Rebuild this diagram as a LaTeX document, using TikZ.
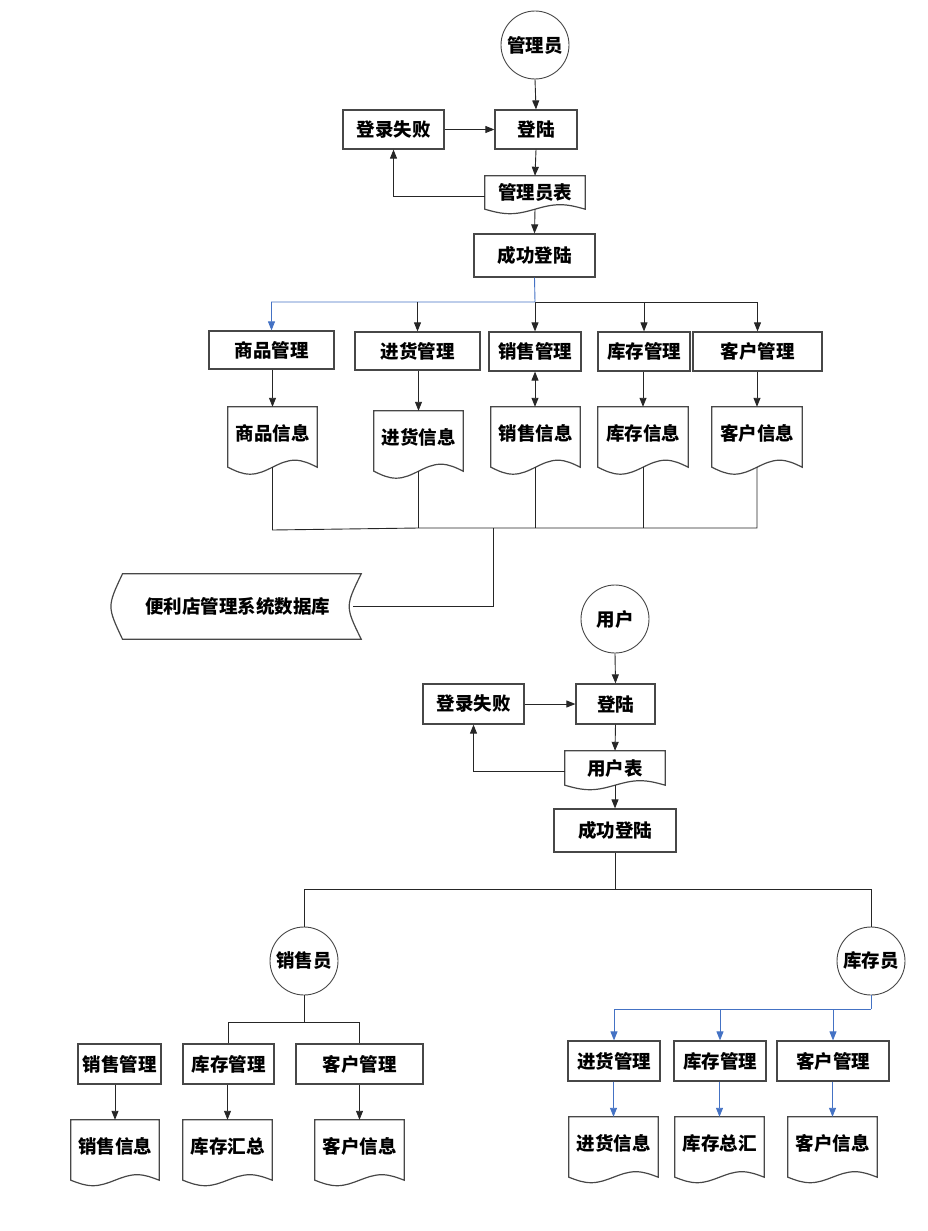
\documentclass[tikz,border=0pt]{standalone}
\usepackage{fontspec}
\setmainfont{Noto Sans CJK SC}
\usetikzlibrary{arrows.meta,calc}
\definecolor{blueln}{RGB}{68,114,196}
\newcommand\lbl{\fontsize{18.5}{21}\selectfont\bfseries}
\newcommand\docshape[2]{%
  \draw[docline] (#2.south west) -- (#2.north west) -- (#2.north east) -- (#2.south east)
    sin ($(#2.south east)!0.25!(#2.south west)+(0,-#1)$)
    cos (#2.south)
    sin ($(#2.south east)!0.75!(#2.south west)+(0,#1)$)
    cos (#2.south west) -- cycle;}
\tikzset{
  box/.style={draw=black!72, line width=1.2pt, rectangle, inner sep=0pt, font=\lbl},
  docnode/.style={rectangle, inner sep=0pt, font=\lbl},
  tdoc/.style={docnode, text height=12pt, text depth=6pt},
  docline/.style={draw=black!72, line width=1.2pt},
  circ/.style={draw=black!72, line width=0.9pt, circle, minimum size=68pt, inner sep=0pt, font=\lbl},
  ln/.style={line width=0.9pt, draw=black!85},
  arr/.style={ln, -{Triangle[length=9pt,width=7pt]}},
  darr/.style={ln, {Triangle[length=9pt,width=7pt]}-{Triangle[length=9pt,width=7pt]}},
  bln/.style={line width=0.9pt, draw=blueln},
  barr/.style={bln, -{Triangle[length=9pt,width=7pt]}},
  dbnode/.style={rectangle, inner sep=0pt, font=\lbl},
}
\begin{document}
\begin{tikzpicture}[x=1pt,y=-1pt]
\useasboundingbox (0,0) rectangle (928,1231);
% ---------- administrator part ----------
\node[circ] (admin) at (535,45) {管理员};
\node[box, minimum width=82pt, minimum height=39pt] (login1) at (536,129.5) {登陆};
\node[box, minimum width=101pt, minimum height=39pt] (fail1) at (393.5,129.5) {登录失败};
\node[docnode, minimum width=100pt, minimum height=33pt] (admintab) at (535,192.5) {管理员表};
\docshape{4.5}{admintab}
\node[box, minimum width=121pt, minimum height=43pt] (success1) at (534.5,255.5) {成功登陆};

\draw[arr] (admin.south) -- (login1.north);
\draw[arr] (fail1.east) -- (login1.west);
\draw[arr] (login1.south) -- (admintab.north);
\draw[arr] ([yshift=-4pt]admintab.west) -| (fail1.south);
\draw[arr] (admintab.south) -- (success1.north);

\node[box, minimum width=125pt, minimum height=38pt] (m1) at (271.5,350) {商品管理};
\node[box, minimum width=125pt, minimum height=38pt] (m2) at (417.5,351) {进货管理};
\node[box, minimum width=92pt, minimum height=39pt] (m3) at (535,351.5) {销售管理};
\node[box, minimum width=92pt, minimum height=39pt] (m4) at (644,351.5) {库存管理};
\node[box, minimum width=129pt, minimum height=39pt] (m5) at (757.5,351.5) {客户管理};

\node[tdoc, minimum width=89pt, minimum height=60pt] (i1) at (272.5,437) {商品信息};
\node[tdoc, minimum width=89pt, minimum height=60pt] (i2) at (418.5,441) {进货信息};
\node[tdoc, minimum width=89pt, minimum height=60pt] (i3) at (535.5,437) {销售信息};
\node[tdoc, minimum width=90pt, minimum height=60pt] (i4) at (643,437) {库存信息};
\node[tdoc, minimum width=90pt, minimum height=60pt] (i5) at (757,437) {客户信息};
\foreach \d in {i1,i2,i3,i4,i5} {\docshape{7}{\d}}

\coordinate (busT) at (535,302);
\draw[ln] (busT) -- (m5.north |- busT);
\draw[barr] (success1.south) -- (busT) -| (m1.north);
\draw[arr] (busT) -- (m3.north);
\draw[arr] (m2.north |- busT) -- (m2.north);
\draw[arr] (m4.north |- busT) -- (m4.north);
\draw[arr] (m5.north |- busT) -- (m5.north);

\draw[arr] (m1.south -| i1.north) -- (i1.north);
\draw[arr] (m2.south -| i2.north) -- (i2.north);
\draw[darr] (m3.south) -- (m3.south |- i3.north);
\draw[arr] (m4.south -| i4.north) -- (i4.north);
\draw[arr] (m5.south -| i5.north) -- (i5.north);

\coordinate (bb1) at (272.5,530);
\coordinate (bb2) at (418.5,528);
\coordinate (bb5) at (757,528);
\coordinate (bbj) at (493,528);
\draw[ln] (i1.south) -- (bb1) -- (bb2) -- (bb5) -- (i5.south);
\draw[ln] (i2.south) -- (bb2);
\draw[ln] (i3.south) -- (i3.south |- bb2);
\draw[ln] (i4.south) -- (i4.south |- bb2);

\node[dbnode, minimum width=230.3pt, minimum height=65pt] (db) at (237.85,606.5) {便利店管理系统数据库};
\draw[docline] (db.north west) -- ([xshift=8pt]db.north east)
  .. controls ([xshift=-8pt]db.east) .. ([xshift=8pt]db.south east)
  -- (db.south west)
  .. controls ([xshift=-15.4pt]db.west) .. (db.north west) -- cycle;
\draw[ln] (bbj) |- (db.east);

% ---------- user part ----------
\node[circ] (user) at (615,619) {用户};
\node[box, minimum width=79pt, minimum height=40pt] (login2) at (615.5,704) {登陆};
\node[box, minimum width=101pt, minimum height=40pt] (fail2) at (473.5,704) {登录失败};
\node[docnode, minimum width=100pt, minimum height=34pt] (usertab) at (615,768) {用户表};
\docshape{4.5}{usertab}
\node[box, minimum width=122pt, minimum height=43pt] (success2) at (615,830.5) {成功登陆};

\draw[arr] (user.south) -- (login2.north);
\draw[arr] (fail2.east) -- (login2.west);
\draw[arr] (login2.south) -- (usertab.north);
\draw[arr] ([yshift=-3pt]usertab.west) -| (fail2.south);
\draw[arr] (usertab.south) -- (success2.north);

\node[circ] (clerk) at (304,961) {销售员};
\node[circ] (stock) at (871,961) {库存员};
\coordinate (bus2) at (615,889);
\draw[ln] (success2.south) -- (bus2);
\draw[ln] (clerk.north) |- (bus2) -| (stock.north);

% sales clerk
\node[box, minimum width=83pt, minimum height=40pt] (s1) at (119.5,1064) {销售管理};
\node[box, minimum width=91pt, minimum height=40pt] (s2) at (228.5,1064) {库存管理};
\node[box, minimum width=127pt, minimum height=40pt] (s3) at (359.5,1064) {客户管理};
\node[tdoc, minimum width=88pt, minimum height=60pt] (sd1) at (115,1150) {销售信息};
\node[tdoc, minimum width=89pt, minimum height=60pt] (sd2) at (227.5,1150) {库存汇总};
\node[tdoc, minimum width=89pt, minimum height=60pt] (sd3) at (359.5,1150) {客户信息};
\foreach \d in {sd1,sd2,sd3} {\docshape{5.5}{\d}}
\coordinate (cj) at (304,1022);
\draw[ln] (clerk.south) -- (cj);
\draw[ln] (s2.north) |- (cj) -| (s3.north);
\draw[arr] (s1.south -| sd1.north) -- (sd1.north);
\draw[arr] (s2.south -| sd2.north) -- (sd2.north);
\draw[arr] (s3.south -| sd3.north) -- (sd3.north);

% stock clerk
\node[box, minimum width=92pt, minimum height=40pt] (k1) at (614,1061) {进货管理};
\node[box, minimum width=92pt, minimum height=40pt] (k2) at (720,1061) {库存管理};
\node[box, minimum width=112pt, minimum height=40pt] (k3) at (833,1061) {客户管理};
\node[tdoc, minimum width=89pt, minimum height=60pt] (kd1) at (613.5,1147) {进货信息};
\node[tdoc, minimum width=89pt, minimum height=60pt] (kd2) at (719.5,1147) {库存总汇};
\node[tdoc, minimum width=89pt, minimum height=60pt] (kd3) at (832.5,1147) {客户信息};
\foreach \d in {kd1,kd2,kd3} {\docshape{5.5}{\d}}
\coordinate (kj) at (871,1009);
\draw[bln] (stock.south) -- (kj);
\draw[barr] (kj) -| (k1.north);
\draw[barr] (k2.north |- kj) -- (k2.north);
\draw[barr] (k3.north |- kj) -- (k3.north);
\draw[barr] (k1.south -| kd1.north) -- (kd1.north);
\draw[barr] (k2.south -| kd2.north) -- (kd2.north);
\draw[barr] (k3.south -| kd3.north) -- (kd3.north);
\end{tikzpicture}
\end{document}
